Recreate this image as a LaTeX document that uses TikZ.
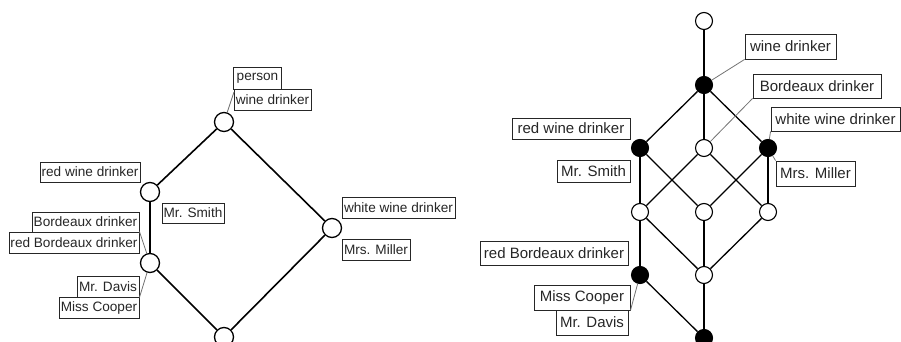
\documentclass[tikz,border=0pt]{standalone}
\usepackage{fontspec}
\setmainfont{Liberation Sans}
\begin{document}
\begin{tikzpicture}[x=1pt,y=-1pt,
  lbox/.style={draw=black!85,line width=0.9pt,inner sep=0pt,text=black!85,font=\fontsize{13.6}{15}\selectfont},
  rbox/.style={draw=black!85,line width=0.9pt,inner sep=0pt,text=black!85,font=\fontsize{15}{16}\selectfont},
  lnode/.style={circle,draw=black,line width=1.3pt,fill=white,minimum size=19pt,inner sep=0pt},
  wnode/.style={circle,draw=black,line width=1.1pt,fill=white,minimum size=17pt,inner sep=0pt},
  bnode/.style={circle,draw=black,line width=1.1pt,fill=black,minimum size=17pt,inner sep=0pt},
  ledge/.style={line width=1.6pt,black},
  redge/.style={line width=1.3pt,black},
  leader/.style={line width=0.8pt,black!55}]
\useasboundingbox (0,0) rectangle (901,342);
% ---------- left lattice ----------
\node[lnode] (lt) at (224,122) {};
\node[lnode] (lr) at (150,192) {};
\node[lnode] (lb) at (150,263) {};
\node[lnode] (lw) at (332,228) {};
\node[lnode] (lbot) at (224,337) {};
\draw[ledge] (lt) -- (lr);
\draw[ledge] (lr) -- (lb);
\draw[ledge] (lb) -- (lbot);
\draw[ledge] (lt) -- (lw);
\draw[ledge] (lw) -- (lbot);
\node[lbox,minimum width=48pt,minimum height=22pt] (lper) at (257.5,78) {person};
\node[lbox,minimum width=77pt,minimum height=21pt] (lwd) at (272.5,99.5) {wine drinker};
\node[lbox,minimum width=100pt,minimum height=20pt] (lrwd) at (90,172) {red wine drinker};
\node[lbox,minimum width=62pt,minimum height=20pt] (lsm) at (193,213) {Mr. Smith};
\node[lbox,minimum width=107pt,minimum height=20pt] (lbd) at (85.5,222) {Bordeaux drinker};
\node[lbox,minimum width=130pt,minimum height=21pt] (lrbd) at (74,242.5) {red Bordeaux drinker};
\node[lbox,minimum width=62pt,minimum height=21pt] (ldav) at (108,286.5) {Mr. Davis};
\node[lbox,minimum width=80pt,minimum height=21pt] (lcoop) at (99,307.5) {Miss Cooper};
\node[lbox,minimum width=113pt,minimum height=21pt] (lwwd) at (398.5,207.5) {white wine drinker};
\node[lbox,minimum width=68pt,minimum height=21pt] (lmil) at (376,249.5) {Mrs. Miller};
\coordinate (lta) at (234,92);
\draw[leader] (lt) -- (lta);
\draw[leader] (lb) -- (lrbd.north east);
\draw[leader] (lb) -- (ldav.south east);
% ---------- right lattice ----------
\node[wnode] (rt) at (704,21) {};
\node[bnode] (rw) at (704,85) {};
\node[bnode] (rr) at (640,148) {};
\node[wnode] (rbx) at (704,148) {};
\node[bnode] (rww) at (768,148) {};
\node[wnode] (r3a) at (640,212) {};
\node[wnode] (r3b) at (704,212) {};
\node[wnode] (r3c) at (768,212) {};
\node[bnode] (rrb) at (640,275) {};
\node[wnode] (r4) at (704,275) {};
\node[bnode] (rbot) at (704,338) {};
\draw[redge] (rt) -- (rw);
\draw[redge] (rw) -- (rr);
\draw[redge] (rw) -- (rbx);
\draw[redge] (rw) -- (rww);
\draw[redge] (rr) -- (r3a);
\draw[redge] (rr) -- (r3b);
\draw[redge] (rbx) -- (r3a);
\draw[redge] (rbx) -- (r3c);
\draw[redge] (rww) -- (r3b);
\draw[redge] (rww) -- (r3c);
\draw[redge] (r3a) -- (rrb);
\draw[redge] (r3a) -- (r4);
\draw[redge] (r3b) -- (r4);
\draw[redge] (r3c) -- (r4);
\draw[redge] (rrb) -- (rbot);
\draw[redge] (r4) -- (rbot);
\node[rbox,minimum width=91pt,minimum height=25pt] (rwd) at (790.5,46.5) {wine drinker};
\node[rbox,minimum width=128pt,minimum height=24pt] (rbd) at (817,86) {Bordeaux drinker};
\node[rbox,minimum width=129pt,minimum height=24pt] (rwwd) at (835.5,119) {white wine drinker};
\node[rbox,minimum width=118pt,minimum height=21pt] (rrwd) at (571,128.5) {red wine drinker};
\node[rbox,minimum width=73pt,minimum height=22pt] (rsm) at (593.5,171) {Mr. Smith};
\node[rbox,minimum width=79pt,minimum height=25pt] (rmm) at (815.5,173.5) {Mrs. Miller};
\node[rbox,minimum width=148pt,minimum height=24pt] (rrbd) at (554,253) {red Bordeaux drinker};
\node[rbox,minimum width=96pt,minimum height=25pt] (rmc) at (582,297.5) {Miss Cooper};
\node[rbox,minimum width=72pt,minimum height=25pt] (rdav) at (592,322.5) {Mr. Davis};
\draw[leader] (rw) -- (rwd.south west);
\draw[leader] (rbx) -- (rbd.south west);
\draw[leader] (rww) -- (rwwd.south west);
\draw[leader] (rww) -- (rmm.north west);
\draw[leader] (rrb) -- (rmc.south east);
\end{tikzpicture}
\end{document}
